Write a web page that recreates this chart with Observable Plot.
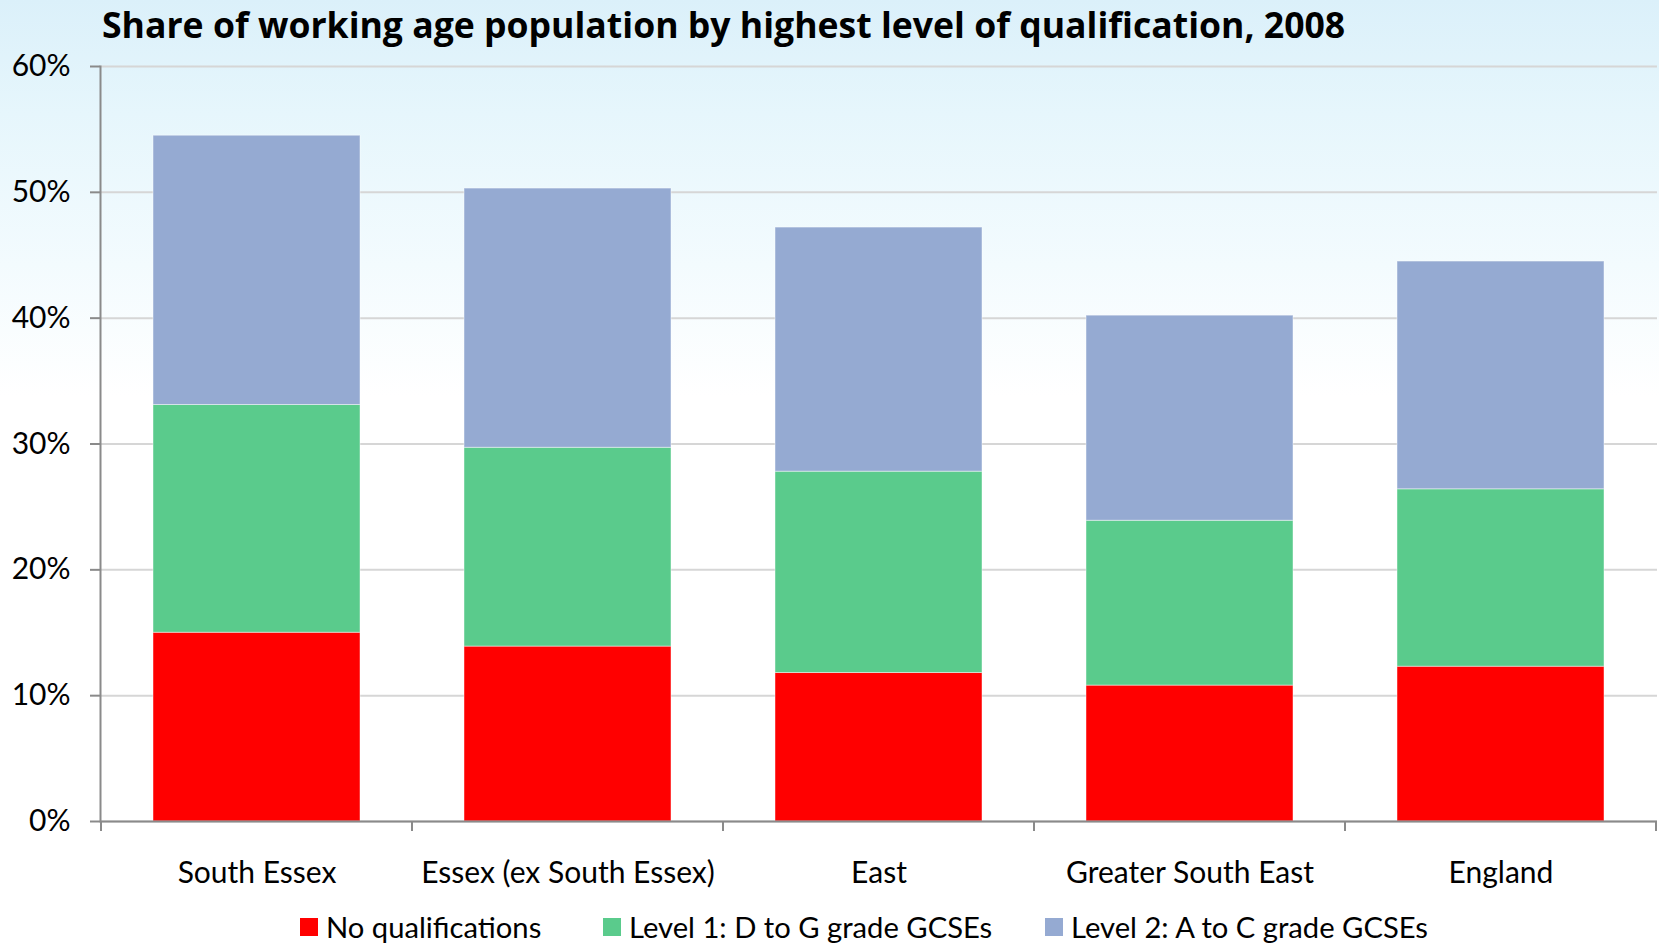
<!DOCTYPE html>
<html>
<head>
<meta charset="utf-8">
<script src="https://cdn.jsdelivr.net/npm/d3@7"></script>
<script src="https://cdn.jsdelivr.net/npm/@observablehq/plot@0.6"></script>
<style>
  html, body { margin: 0; padding: 0; }
  #chart {
    position: relative; width: 1659px; height: 944px; overflow: hidden;
    background: linear-gradient(to bottom, #dbf0fa 0%, #e6f6fc 12%, #f3fbfe 28%, #ffffff 42%, #ffffff 100%);
    font-family: Lato, "Open Sans", sans-serif;
  }
  #title {
    position: absolute; left: 102px; top: 0px;
    font: bold 35.6px "Open Sans", Lato, sans-serif; color: #000; white-space: nowrap;
  }
  #plot { position: absolute; left: 0; top: 0; }
  #legend {
    position: absolute; left: 0; top: 909px; width: 1659px; height: 40px;
  }
  .item { position: absolute; top: 0; display: flex; align-items: center; font-size: 29.2px; color: #000; white-space: nowrap; }
  .sw { width: 18px; height: 18px; margin-right: 8px; }
</style>
</head>
<body>
<div id="chart">
  <div id="plot"></div>
  <div id="title">Share of working age population by highest level of qualification, 2008</div>
  <div id="legend"></div>
</div>
<script>
const titleText = "Share of working age population by highest level of qualification, 2008";
const categories = ["South Essex", "Essex (ex South Essex)", "East", "Greater South East", "England"];
const seriesNames = ["No qualifications", "Level 1: D to G grade GCSEs", "Level 2: A to C grade GCSEs"];
const seriesColors = ["#ff0000", "#5acb8c", "#95aad2"];
const noQualifications = [0.150, 0.139, 0.118, 0.108, 0.123];
const level1 = [0.181, 0.158, 0.160, 0.131, 0.141];
const level2 = [0.214, 0.206, 0.194, 0.163, 0.181];
const yTicks = [0, 0.1, 0.2, 0.3, 0.4, 0.5, 0.6];

const seriesValues = [noQualifications, level1, level2];
const data = [];
categories.forEach((c, i) => {
  seriesNames.forEach((s, j) => data.push({category: c, series: s, value: seriesValues[j][i]}));
});

const plot = Plot.plot({
  width: 1659,
  height: 905,
  marginTop: 66,
  marginBottom: 84,
  marginLeft: 100,
  marginRight: 2,
  style: {fontFamily: "Lato, 'Open Sans', sans-serif", fontSize: "30px", color: "#000", background: "transparent", overflow: "visible"},
  x: {domain: categories, paddingInner: 1/3, paddingOuter: 1/6, label: null},
  y: {domain: [0, 0.6], label: null},
  color: {domain: seriesNames, range: seriesColors},
  marks: [
    Plot.gridY(yTicks, {stroke: "#d6d6d6", strokeOpacity: 1, strokeWidth: 2}),
    Plot.barY(data, {x: "category", y: "value", fill: "series", stroke: "#ffffff", strokeOpacity: 0.45, strokeWidth: 1}),
    Plot.axisY({ticks: yTicks, tickFormat: d3.format(".0%"), tickSize: 10, tickPadding: 20, stroke: "#8a8a8a", strokeWidth: 2, label: null}),
    Plot.axisX({tickSize: 0, tickPadding: 40, label: null}),
    Plot.frame({anchor: "left", stroke: "#8a8a8a", strokeWidth: 2}),
    Plot.ruleY([0], {stroke: "#8a8a8a", strokeWidth: 2})
  ]
});
document.getElementById("plot").appendChild(plot);

// category boundary ticks below the x axis, placed with the plot's own scales
const xs = plot.scale("x");
const ys = plot.scale("y");
const gap = xs.step - xs.bandwidth;
const y0 = ys.apply(0);
const bounds = categories.map(c => xs.apply(c) - gap / 2).concat([xs.apply(categories[categories.length - 1]) + xs.bandwidth + gap / 2]);
d3.select(plot).append("g")
  .selectAll("line").data(bounds).join("line")
  .attr("x1", d => d).attr("x2", d => d)
  .attr("y1", y0).attr("y2", y0 + 10)
  .attr("stroke", "#8a8a8a").attr("stroke-width", 2);

// legend
const legendX = [300, 603, 1045];
const legend = d3.select("#legend");
seriesNames.forEach((s, i) => {
  const item = legend.append("div").attr("class", "item").style("left", legendX[i] + "px");
  item.append("div").attr("class", "sw").style("background", plot.scale("color").apply(s));
  item.append("span").text(s);
});
</script>
</body>
</html>
